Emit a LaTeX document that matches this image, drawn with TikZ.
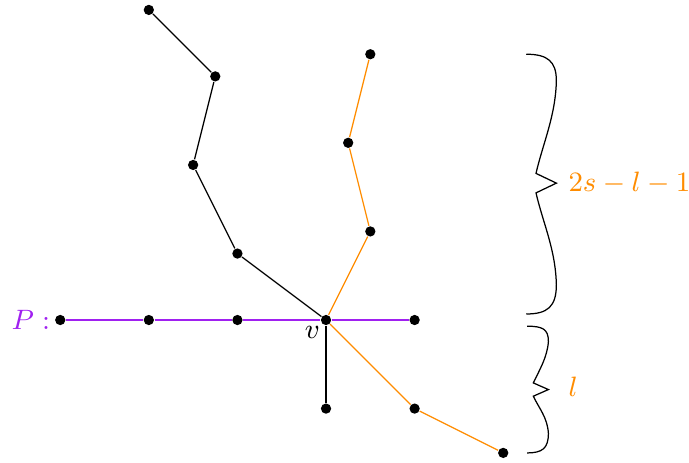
\documentclass[tikz,border=0pt]{standalone}
\usetikzlibrary{positioning}
\definecolor{pathpurple}{RGB}{160,32,240}
\definecolor{armorange}{RGB}{255,140,0}

\begin{document}
\begin{tikzpicture}[
    font=\fontsize{9.3}{11}\selectfont,
    vtx/.style={circle, fill=black, inner sep=0pt, minimum size=3.3pt},
    pathedge/.style={draw=pathpurple, line width=0.85pt},
    armedge/.style={draw=armorange, line width=0.4pt},
    treeedge/.style={draw=black, line width=0.4pt},
    spanline/.style={draw=black, line width=0.4pt},
    spanlabel/.style={text=armorange, anchor=west, inner sep=2pt}
  ]
    \useasboundingbox (-3.68,-1.603) rectangle (4.097,3.612);
    % the path P through v
    \node[vtx, label={[text=pathpurple, inner sep=1.2pt]left:$P:$}] (p1) at (-3,0) {};
    \node[vtx] (p2) at (-2,0) {};
    \node[vtx] (p3) at (-1,0) {};
    \node[vtx, label={[inner sep=0.5pt]below left:$v$}] (v) at (0,0) {};
    \node[vtx] (p5) at (1,0) {};
    \draw[pathedge] (p1) -- (p2) -- (p3) -- (v) -- (p5);
    % black branches
    \node[vtx] (b1) at (-1,0.75) {};
    \node[vtx] (b2) at (-1.5,1.75) {};
    \node[vtx] (b3) at (-1.25,2.75) {};
    \node[vtx] (b4) at (-2,3.5) {};
    \node[vtx] (d1) at (0,-1) {};
    \draw[treeedge] (v) -- (b1) -- (b2) -- (b3) -- (b4);
    \draw[treeedge] (v) -- (d1);
    % orange branches
    \node[vtx] (u1) at (0.5,1) {};
    \node[vtx] (u2) at (0.25,2) {};
    \node[vtx] (u3) at (0.5,3) {};
    \node[vtx] (w1) at (1,-1) {};
    \node[vtx] (w2) at (2,-1.5) {};
    \draw[armedge] (v) -- (u1) -- (u2) -- (u3);
    \draw[armedge] (v) -- (w1) -- (w2);
    % braces
    \draw[spanline] (2.26,3.0) .. controls (2.5,3.0) and (2.60,2.92) .. (2.60,2.70)
        .. controls (2.59,2.3) and (2.45,2.0) .. (2.37,1.655) -- (2.60,1.545) -- (2.37,1.435)
        .. controls (2.45,1.09) and (2.59,0.8) .. (2.60,0.40)
        .. controls (2.60,0.15) and (2.5,0.068) .. (2.26,0.068);
    \draw[spanline] (2.27,-0.07) .. controls (2.44,-0.07) and (2.51,-0.10) .. (2.51,-0.24)
        .. controls (2.50,-0.42) and (2.40,-0.58) .. (2.34,-0.71) -- (2.51,-0.785) -- (2.34,-0.86)
        .. controls (2.40,-0.99) and (2.50,-1.10) .. (2.51,-1.28)
        .. controls (2.51,-1.45) and (2.44,-1.50) .. (2.27,-1.50);
    \node[spanlabel] (upper) at (2.66,1.545) {$2s-l-1$};
    \node[spanlabel] (lower) at (2.66,-0.75) {$l$};
\end{tikzpicture}
\end{document}
